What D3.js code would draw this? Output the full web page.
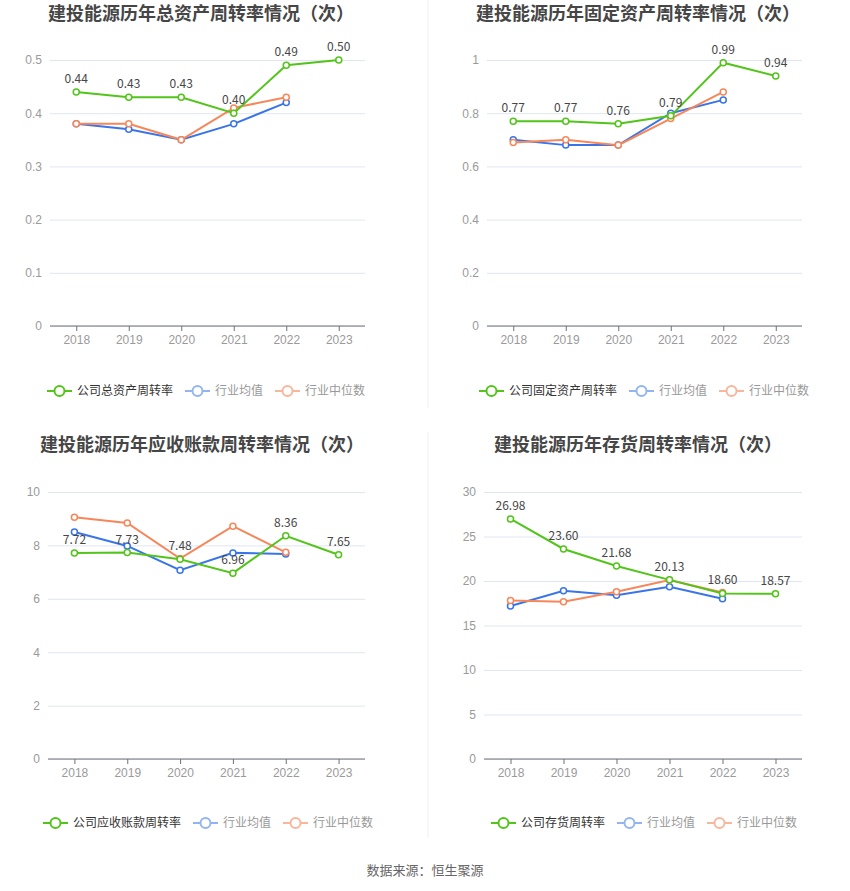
<!DOCTYPE html>
<html>
<head>
<meta charset="utf-8">
<script src="https://cdn.jsdelivr.net/npm/d3@7"></script>
<style>
  body { margin: 0; background: #fff; }
  svg { font-family: "Noto Sans CJK SC", "Noto Sans", sans-serif; }
</style>
</head>
<body>
<div class="charts"></div>
<script>
const W = 850, H = 891;

// DATA ----------------------------------------
const years = ['2018', '2019', '2020', '2021', '2022', '2023'];
const legendAvg = '行业均值';
const legendMed = '行业中位数';

const totalAssetCompany = [0.44, 0.43, 0.43, 0.40, 0.49, 0.50];
const totalAssetAvg = [0.38, 0.37, 0.35, 0.38, 0.42];
const totalAssetMed = [0.38, 0.38, 0.35, 0.41, 0.43];
const totalAssetTicks = [0, 0.1, 0.2, 0.3, 0.4, 0.5];

const fixedAssetCompany = [0.77, 0.77, 0.76, 0.79, 0.99, 0.94];
const fixedAssetAvg = [0.70, 0.68, 0.68, 0.80, 0.85];
const fixedAssetMed = [0.69, 0.70, 0.68, 0.78, 0.88];
const fixedAssetTicks = [0, 0.2, 0.4, 0.6, 0.8, 1];

const receivableCompany = [7.72, 7.73, 7.48, 6.96, 8.36, 7.65];
const receivableAvg = [8.50, 7.98, 7.07, 7.72, 7.68];
const receivableMed = [9.05, 8.84, 7.51, 8.72, 7.74];
const receivableTicks = [0, 2, 4, 6, 8, 10];

const inventoryCompany = [26.98, 23.60, 21.68, 20.13, 18.60, 18.57];
const inventoryAvg = [17.2, 18.9, 18.4, 19.34, 18.0];
const inventoryMed = [17.8, 17.66, 18.8, 20.1, 18.7];
const inventoryTicks = [0, 5, 10, 15, 20, 25, 30];

// CHART INIT ----------------------------------------
const colors = {company: '#52c41a', avg: '#3a75e8', med: '#f7875a'};
const legendColors = {company: '#52c41a', avg: '#93b4f3', med: '#fab69b'};

const svg = d3.select('.charts').append('svg')
	.attr('width', W)
	.attr('height', H);

// separators
svg.append('line')
	.attr('x1', 428).attr('x2', 428).attr('y1', 0).attr('y2', 408)
	.attr('stroke', '#f0f0f0');
svg.append('line')
	.attr('x1', 428).attr('x2', 428).attr('y1', 432).attr('y2', 838)
	.attr('stroke', '#f0f0f0');

const charts = [
	{title: '建投能源历年总资产周转率情况（次）', name: '公司总资产周转率',
	 company: totalAssetCompany, avg: totalAssetAvg, med: totalAssetMed, ticks: totalAssetTicks,
	 left: 50, right: 365, top: 60, bottom: 326, titleX: 201, titleY: 20, legendX: 206, legendY: 391},
	{title: '建投能源历年固定资产周转率情况（次）', name: '公司固定资产周转率',
	 company: fixedAssetCompany, avg: fixedAssetAvg, med: fixedAssetMed, ticks: fixedAssetTicks,
	 left: 487, right: 802, top: 60, bottom: 326, titleX: 638, titleY: 20, legendX: 644, legendY: 391},
	{title: '建投能源历年应收账款周转率情况（次）', name: '公司应收账款周转率',
	 company: receivableCompany, avg: receivableAvg, med: receivableMed, ticks: receivableTicks,
	 left: 48, right: 365, top: 492, bottom: 759, titleX: 202, titleY: 451, legendX: 208, legendY: 823},
	{title: '建投能源历年存货周转率情况（次）', name: '公司存货周转率',
	 company: inventoryCompany, avg: inventoryAvg, med: inventoryMed, ticks: inventoryTicks,
	 left: 484, right: 802, top: 492, bottom: 759, titleX: 638, titleY: 451, legendX: 644, legendY: 823}
];

charts.forEach(drawChart);

function drawChart(c) {
	const g = svg.append('g');

	const xScale = d3.scalePoint()
		.domain(years)
		.range([c.left, c.right])
		.padding(0.5);

	const yScale = d3.scaleLinear()
		.domain([0, d3.max(c.ticks)])
		.range([c.bottom, c.top]);

	// title
	g.append('text')
		.attr('x', c.titleX)
		.attr('y', c.titleY)
		.attr('text-anchor', 'middle')
		.attr('font-size', 18)
		.attr('font-weight', 'bold')
		.attr('fill', '#464646')
		.text(c.title);

	// grid + y labels
	const yAxis = d3.axisLeft(yScale)
		.tickValues(c.ticks)
		.tickSize(-(c.right - c.left))
		.tickPadding(8)
		.tickFormat(d3.format('~g'));

	const ya = g.append('g')
		.attr('transform', `translate(${c.left},0)`)
		.call(yAxis);
	ya.select('.domain').remove();
	ya.selectAll('line').attr('stroke', '#e0e6f1');
	ya.selectAll('text').attr('fill', '#9a9a9a').attr('font-size', 12);

	// x axis
	const xAxis = d3.axisBottom(xScale)
		.tickSizeOuter(0)
		.tickSize(5)
		.tickPadding(4);

	const xa = g.append('g')
		.attr('transform', `translate(0,${c.bottom})`)
		.call(xAxis);
	xa.select('.domain').attr('stroke', '#6e7079').attr('d', `M${c.left},0H${c.right}`);
	xa.selectAll('line').attr('stroke', '#6e7079');
	xa.selectAll('text').attr('fill', '#9a9a9a').attr('font-size', 12);

	const line = d3.line()
		.x((d, i) => xScale(years[i]))
		.y(d => yScale(d));

	const series = [
		{key: 'avg', data: c.avg},
		{key: 'med', data: c.med},
		{key: 'company', data: c.company}
	];

	series.forEach(s => {
		g.append('path')
			.datum(s.data)
			.attr('fill', 'none')
			.attr('stroke', colors[s.key])
			.attr('stroke-width', 2)
			.attr('d', line);

		g.selectAll('.pt-' + s.key)
			.data(s.data)
			.enter()
			.append('circle')
			.attr('class', 'pt-' + s.key)
			.attr('cx', (d, i) => xScale(years[i]))
			.attr('cy', d => yScale(d))
			.attr('r', 3)
			.attr('fill', '#fff')
			.attr('stroke', colors[s.key])
			.attr('stroke-width', 1.5);
	});

	// company labels
	g.selectAll('.lbl')
		.data(c.company)
		.enter()
		.append('text')
		.attr('class', 'lbl')
		.attr('x', (d, i) => xScale(years[i]))
		.attr('y', d => yScale(d) - 9)
		.attr('text-anchor', 'middle')
		.attr('font-size', 12)
		.attr('fill', '#464646')
		.text(d => d.toFixed(2));

	// legend
	const items = [
		{key: 'company', label: c.name, color: '#333'},
		{key: 'avg', label: legendAvg, color: '#999'},
		{key: 'med', label: legendMed, color: '#999'}
	];
	const lg = g.append('g');
	let x = 0;
	items.forEach(it => {
		const ig = lg.append('g').attr('transform', `translate(${x},0)`);
		ig.append('line')
			.attr('x1', 0).attr('x2', 25).attr('y1', 0).attr('y2', 0)
			.attr('stroke', legendColors[it.key]).attr('stroke-width', 2);
		ig.append('circle')
			.attr('cx', 12.5).attr('cy', 0).attr('r', 5)
			.attr('fill', '#fff')
			.attr('stroke', legendColors[it.key]).attr('stroke-width', 2);
		const t = ig.append('text')
			.attr('x', 30).attr('y', 4)
			.attr('font-size', 12)
			.attr('fill', it.color)
			.text(it.label);
		x += 30 + t.node().getComputedTextLength() + 12;
	});
	const total = x - 12;
	lg.attr('transform', `translate(${c.legendX - total / 2},${c.legendY})`);
}

// source
svg.append('text')
	.attr('x', 425)
	.attr('y', 875)
	.attr('text-anchor', 'middle')
	.attr('font-size', 13)
	.attr('fill', '#666')
	.text('数据来源：恒生聚源');
</script>
</body>
</html>
